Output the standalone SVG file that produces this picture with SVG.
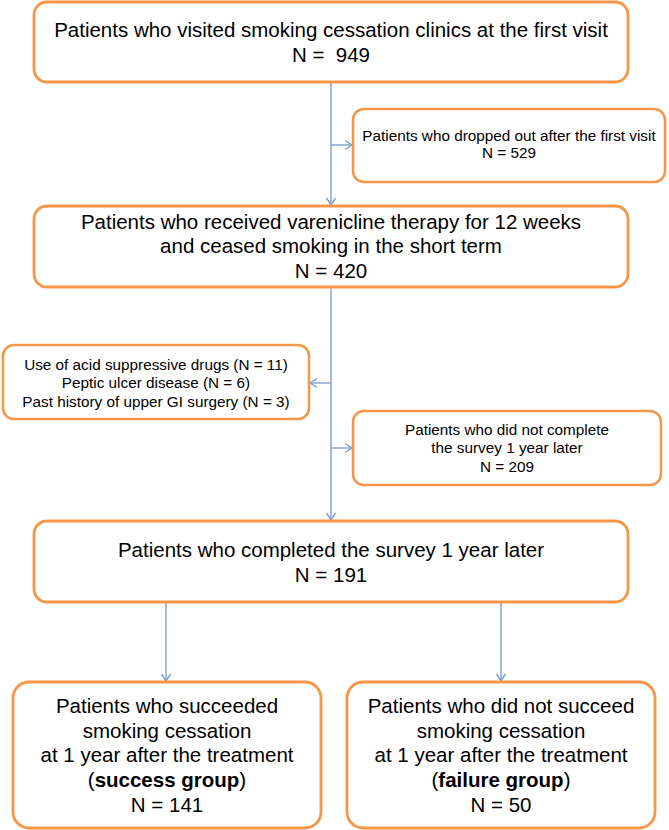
<svg xmlns="http://www.w3.org/2000/svg" width="669" height="830" viewBox="0 0 669 830">
<style>
.box{fill:#fff;stroke:#F79646;stroke-width:2.8}
.sm{stroke-width:2.5}
.t{font-family:"Liberation Sans",Arial,sans-serif;fill:#000;text-anchor:middle}
.big{font-size:20.5px}
.small{font-size:15.3px}
.b{font-weight:bold}
.c{fill:none;stroke:#7F9FD0;stroke-width:1.4}
</style>
<defs>
<marker id="ah" markerUnits="userSpaceOnUse" markerWidth="12" markerHeight="12" viewBox="-8 -6 10 12" refX="0" refY="0" orient="auto">
<path d="M-7,-4.5 L0,0 L-7,4.5" fill="none" stroke="#7F9FD0" stroke-width="1.4"/>
</marker>
</defs>
<rect width="669" height="830" fill="#fff"/>
<g id="connectors">
<line class="c" x1="331" y1="82" x2="331" y2="205" marker-end="url(#ah)"/>
<line class="c" x1="331" y1="145" x2="352" y2="145" marker-end="url(#ah)"/>
<line class="c" x1="331" y1="287" x2="331" y2="520" marker-end="url(#ah)"/>
<line class="c" x1="331" y1="383" x2="310" y2="383" marker-end="url(#ah)"/>
<line class="c" x1="331" y1="448" x2="352" y2="448" marker-end="url(#ah)"/>
<line class="c" x1="166" y1="602" x2="166" y2="681" marker-end="url(#ah)"/>
<line class="c" x1="501" y1="602" x2="501" y2="681" marker-end="url(#ah)"/>
</g>
<g id="n1">
<rect class="box" x="34" y="2" width="594" height="80" rx="13"/>
<text class="t big" x="331" y="37">Patients who visited smoking cessation clinics at the first visit</text>
<text class="t big" x="331" y="62" xml:space="preserve">N =  949</text>
</g>
<g id="n2">
<rect class="box sm" x="353" y="109" width="312" height="73" rx="11"/>
<text class="t small" x="509" y="141">Patients who dropped out after the first visit</text>
<text class="t small" x="509" y="158">N = 529</text>
</g>
<g id="n3">
<rect class="box" x="34" y="206" width="594" height="81" rx="13"/>
<text class="t big" x="331" y="229">Patients who received varenicline therapy for 12 weeks</text>
<text class="t big" x="331" y="253">and ceased smoking in the short term</text>
<text class="t big" x="331" y="278">N = 420</text>
</g>
<g id="n4">
<rect class="box sm" x="3" y="345" width="306" height="74" rx="11"/>
<text class="t small" x="156" y="370">Use of acid suppressive drugs (N = 11)</text>
<text class="t small" x="156" y="388">Peptic ulcer disease (N = 6)</text>
<text class="t small" x="156" y="407">Past history of upper GI surgery (N = 3)</text>
</g>
<g id="n5">
<rect class="box sm" x="353" y="411" width="308" height="74" rx="11"/>
<text class="t small" x="507" y="435">Patients who did not complete</text>
<text class="t small" x="507" y="453">the survey 1 year later</text>
<text class="t small" x="507" y="472">N = 209</text>
</g>
<g id="n6">
<rect class="box" x="34" y="521" width="594" height="81" rx="13"/>
<text class="t big" x="331" y="557">Patients who completed the survey 1 year later</text>
<text class="t big" x="331" y="582">N = 191</text>
</g>
<g id="n7">
<rect class="box" x="13" y="682" width="308" height="146" rx="16"/>
<text class="t big" x="167" y="713">Patients who succeeded</text>
<text class="t big" x="167" y="738">smoking cessation</text>
<text class="t big" x="167" y="762">at 1 year after the treatment</text>
<text class="t big" x="167" y="787">(<tspan class="b">success group</tspan>)</text>
<text class="t big" x="167" y="812">N = 141</text>
</g>
<g id="n8">
<rect class="box" x="347" y="682" width="308" height="146" rx="16"/>
<text class="t big" x="501" y="713">Patients who did not succeed</text>
<text class="t big" x="501" y="738">smoking cessation</text>
<text class="t big" x="501" y="762">at 1 year after the treatment</text>
<text class="t big" x="501" y="787">(<tspan class="b">failure group</tspan>)</text>
<text class="t big" x="501" y="812">N = 50</text>
</g>
</svg>
